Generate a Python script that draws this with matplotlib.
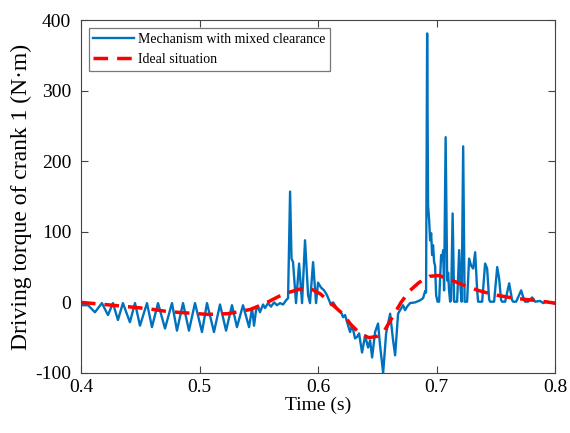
import matplotlib
matplotlib.use("Agg")
import matplotlib.pyplot as plt

plt.rcParams['font.family'] = ['Liberation Serif', 'DejaVu Serif']

# Driving torque of crank 1 with mixed clearance, as (time s, torque N·m)
# 0.40-0.54 s: regular oscillation below the ideal curve
seg_oscillation = [
    (0.4000, -3), (0.4008, -4), (0.4060, -4), (0.4118, -14), (0.4177, -1),
    (0.4228, -18), (0.4270, -1), (0.4312, -25), (0.4354, -1), (0.4413, -28),
    (0.4456, -1), (0.4498, -33), (0.4557, -1), (0.4599, -35), (0.4650, -1),
    (0.4709, -37), (0.4768, -1), (0.4810, -40), (0.4861, -1), (0.4911, -40),
    (0.4962, -1), (0.5021, -42), (0.5063, -1), (0.5122, -42), (0.5173, -3),
    (0.5224, -40), (0.5274, -4), (0.5316, -35), (0.5367, -4), (0.5418, -35),
]
# 0.544-0.575 s: noisy rise
seg_rise = [
    (0.5443, -8), (0.5460, -33), (0.5477, -11), (0.5494, -6), (0.5510, -14),
    (0.5536, -3), (0.5553, -8), (0.5578, -1), (0.5603, -6), (0.5629, 0),
    (0.5654, -4), (0.5679, -1), (0.5705, -3), (0.5730, 3), (0.5747, 6),
]
# 0.576-0.613 s: first impact cluster
seg_impact1 = [
    (0.5764, 157), (0.5776, 62), (0.5789, 57), (0.5814, -1), (0.5840, 55),
    (0.5865, -1), (0.5890, 88), (0.5916, 10), (0.5932, -1), (0.5958, 57),
    (0.5983, -1), (0.6000, 28), (0.6025, 21), (0.6051, 17), (0.6076, 10),
    (0.6093, 3), (0.6110, -4), (0.6127, 0),
]
# 0.617-0.691 s: descent through the minimum
seg_descent = [
    (0.6169, -11), (0.6194, -14), (0.6211, -21), (0.6228, -18), (0.6245, -28),
    (0.6270, -42), (0.6287, -32), (0.6312, -51), (0.6329, -49), (0.6346, -44),
    (0.6371, -71), (0.6397, -47), (0.6422, -64), (0.6439, -54), (0.6456, -78),
    (0.6481, -42), (0.6506, -30), (0.6523, -61), (0.6549, -100), (0.6574, -44),
    (0.6608, -16), (0.6633, -54), (0.6650, -75), (0.6675, -16), (0.6692, -11),
    (0.6717, -4), (0.6734, -11), (0.6751, -6), (0.6776, -1), (0.6819, 0),
    (0.6861, 3), (0.6886, 6), (0.6903, 16), (0.6911, 14),
]
# 0.692-0.80 s: second impact cluster and decay
seg_impact2 = [
    (0.6920, 381), (0.6928, 137), (0.6937, 116), (0.6945, 88), (0.6954, 98),
    (0.6962, 67), (0.6970, 81), (0.6979, 57), (0.6987, 52), (0.6996, 10),
    (0.7008, 1), (0.7021, 1), (0.7038, 67), (0.7046, 60), (0.7055, 74),
    (0.7063, 17), (0.7076, 234), (0.7089, 31), (0.7097, 42), (0.7105, 17),
    (0.7114, 1), (0.7122, 3), (0.7135, 126), (0.7148, 1), (0.7173, 1),
    (0.7190, 74), (0.7203, 17), (0.7211, 1), (0.7224, 221), (0.7236, 1),
    (0.7257, 1), (0.7274, 62), (0.7291, 52), (0.7308, 48), (0.7325, 71),
    (0.7342, 17), (0.7350, 1), (0.7384, 1), (0.7409, 55), (0.7426, 48),
    (0.7443, 4), (0.7451, 1), (0.7485, 1), (0.7511, 50), (0.7527, 34),
    (0.7544, 3), (0.7553, 1), (0.7578, 1), (0.7612, 27), (0.7637, 3),
    (0.7646, 1), (0.7671, 1), (0.7713, 17), (0.7738, 3), (0.7747, 1),
    (0.7772, 1), (0.7806, 7), (0.7831, 1), (0.7873, 2), (0.7899, -1),
    (0.7924, 1), (0.7958, 0), (0.8000, -2),
]

# Driving torque of crank 1 for the ideal mechanism
t_ideal = [
    0.400, 0.420, 0.439, 0.457, 0.473, 0.490, 0.507, 0.524, 0.543,
    0.557, 0.571, 0.585, 0.593, 0.602, 0.612, 0.620, 0.628, 0.636,
    0.643, 0.650, 0.656, 0.663, 0.670, 0.677, 0.685, 0.694, 0.702,
    0.712, 0.722, 0.735, 0.748, 0.765, 0.782, 0.800,
]
tq_ideal = [
    0, -3, -6, -9, -13, -15, -17, -16, -10,
    0, 12, 19, 20, 12, -3, -15, -32, -45,
    -50, -48, -40, -20, 0, 16, 28, 37, 38,
    32, 25, 17, 11, 6, 3, -1,
]

x_ticks = [0.4, 0.5, 0.6, 0.7, 0.8]
x_tick_labels = ['0.4', '0.5', '0.6', '0.7', '0.8']
y_ticks = [-100, 0, 100, 200, 300, 400]
y_tick_labels = ['-100', '0', '100', '200', '300', '400']

mixed = seg_oscillation + seg_rise + seg_impact1 + seg_descent + seg_impact2
t_mixed = [p[0] for p in mixed]
tq_mixed = [p[1] for p in mixed]

fig = plt.figure(figsize=(5.70, 4.33), dpi=100)
ax = fig.add_axes([0.142, 0.1386, 0.832, 0.8152])

ax.plot(t_mixed, tq_mixed, color='#0072BD', lw=1.7,
        solid_joinstyle='round', label='Mechanism with mixed clearance')
ax.plot(t_ideal, tq_ideal, color='red', lw=2.5, ls=(0, (4.2, 2.6)),
        label='Ideal situation')

ax.set_xlim(0.4, 0.8)
ax.set_ylim(-100, 400)
ax.set_xticks(x_ticks)
ax.set_xticklabels(x_tick_labels)
ax.set_yticks(y_ticks)
ax.set_yticklabels(y_tick_labels)
ax.tick_params(direction='in', top=True, right=True, length=5,
               width=0.8, color='#444444', labelsize=14)
ax.tick_params(axis='y', pad=7)
ax.tick_params(axis='x', pad=4)
for s in ax.spines.values():
    s.set_color('#444444')
    s.set_linewidth(0.8)

ax.set_xlabel('Time (s)', fontsize=14, labelpad=1)
ax.set_ylabel('Driving torque of crank 1 (N·m)', fontsize=17, labelpad=2)

leg = ax.legend(loc='upper left', fontsize=10, frameon=True, fancybox=False,
                edgecolor='#555555', handlelength=2.9, handletextpad=0.3,
                borderpad=0.35, labelspacing=0.55, borderaxespad=0.55)
leg.get_frame().set_linewidth(0.9)

fig.savefig('out.png', dpi=100)
